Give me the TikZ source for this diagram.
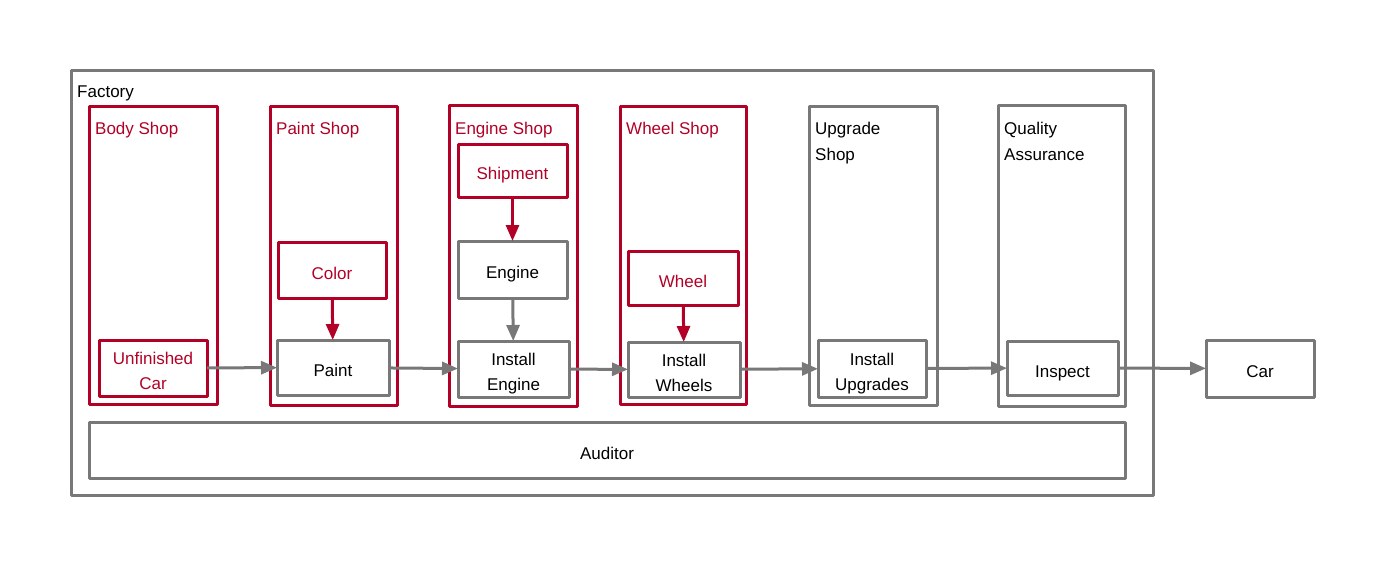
\documentclass[tikz,border=0pt]{standalone}
\usepackage{fontspec}
\setmainfont{Liberation Sans}
\usetikzlibrary{arrows.meta}
\definecolor{exred}{RGB}{178,0,38}
\definecolor{exgray}{RGB}{120,120,120}
\newcommand{\boxtxt}[1]{\raisebox{-4pt}[\height][\depth]{\begin{tabular}{@{}c@{}}#1\end{tabular}}}
\tikzset{
  box/.style={draw=exgray, line width=3pt, line join=round, inner sep=0pt, outer sep=0pt, font=\fontsize{17}{25}\selectfont, text=black},
  redbox/.style={box, draw=exred, text=exred},
  shop/.style={draw=exgray, line width=3pt, line join=round, inner sep=0pt, outer sep=0pt},
  redshop/.style={shop, draw=exred},
  title/.style={inner sep=0pt, anchor=north west, align=left, font=\fontsize{17}{26}\selectfont, text=black},
  redtitle/.style={title, text=exred},
  arr/.style={draw=exgray, line width=3pt, -{Triangle[length=16pt,width=13pt]}},
  redarr/.style={arr, draw=exred},
}
\begin{document}
\begin{tikzpicture}[x=1pt,y=-1pt]
\useasboundingbox (0,0) rectangle (1386,567);
% Factory
\node[shop, minimum width=1082pt, minimum height=424pt] (factory) at (612,283) {};
\node[title, anchor=base west] (factorylbl) at (77,98) {Factory};
% shops
\node[redshop, minimum width=128pt, minimum height=297pt] (body) at (153,255.5) {};
\node[redshop, minimum width=127pt, minimum height=298pt] (paintshop) at (333.5,256) {};
\node[redshop, minimum width=128pt, minimum height=300pt] (engineshop) at (513,256) {};
\node[redshop, minimum width=126pt, minimum height=297pt] (wheelshop) at (683,255.5) {};
\node[shop, minimum width=128pt, minimum height=298pt] (upgradeshop) at (873,256) {};
\node[shop, minimum width=127pt, minimum height=300pt] (qa) at (1061.5,256) {};
% titles
\node[redtitle] (bodylbl) at (95,122) {Body Shop};
\node[redtitle] (paintlbl) at (276,122) {Paint Shop};
\node[redtitle] (enginelbl) at (455,122) {Engine Shop};
\node[redtitle] (wheellbl) at (626,122) {Wheel Shop};
\node[title] (upgradelbl) at (815,122) {Upgrade\\Shop};
\node[title] (qalbl) at (1004,122) {Quality\\Assurance};
% auditor
\node[box, minimum width=1036pt, minimum height=56pt] (auditor) at (607,450) {\boxtxt{Auditor}};
% inner boxes
\node[redbox, minimum width=108pt, minimum height=56pt] (uc) at (153,368) {\boxtxt{Unfinished\\Car}};
\node[box, minimum width=112pt, minimum height=55pt] (paint) at (333,367.5) {\boxtxt{Paint}};
\node[redbox, minimum width=108pt, minimum height=56pt] (color) at (332,270) {\boxtxt{Color}};
\node[redbox, minimum width=109pt, minimum height=53pt] (shipment) at (512.5,170.5) {\boxtxt{Shipment}};
\node[box, minimum width=109pt, minimum height=57pt] (engine) at (512.5,269.5) {\boxtxt{Engine}};
\node[box, minimum width=111pt, minimum height=56pt] (ieng) at (513.5,369) {\boxtxt{Install\\Engine}};
\node[redbox, minimum width=110pt, minimum height=54pt] (wheel) at (683,278) {\boxtxt{Wheel}};
\node[box, minimum width=112pt, minimum height=55pt] (iwh) at (684,369.5) {\boxtxt{Install\\Wheels}};
\node[box, minimum width=108pt, minimum height=57pt] (iup) at (872,368.5) {\boxtxt{Install\\Upgrades}};
\node[box, minimum width=111pt, minimum height=54pt] (insp) at (1062.5,368) {\boxtxt{Inspect}};
\node[box, minimum width=108pt, minimum height=57pt] (car) at (1260,368.5) {\boxtxt{Car}};
% arrows
\draw[arr] (uc) -- (paint);
\draw[arr] (paint) -- (ieng);
\draw[arr] (ieng) -- (iwh);
\draw[arr] (iwh) -- (iup);
\draw[arr] (iup) -- (insp);
\draw[arr] (insp) -- (car);
\draw[redarr] (color) -- (paint);
\draw[redarr] (shipment) -- (engine);
\draw[arr] (engine) -- (ieng);
\draw[redarr] (wheel) -- (iwh);
\end{tikzpicture}
\end{document}
